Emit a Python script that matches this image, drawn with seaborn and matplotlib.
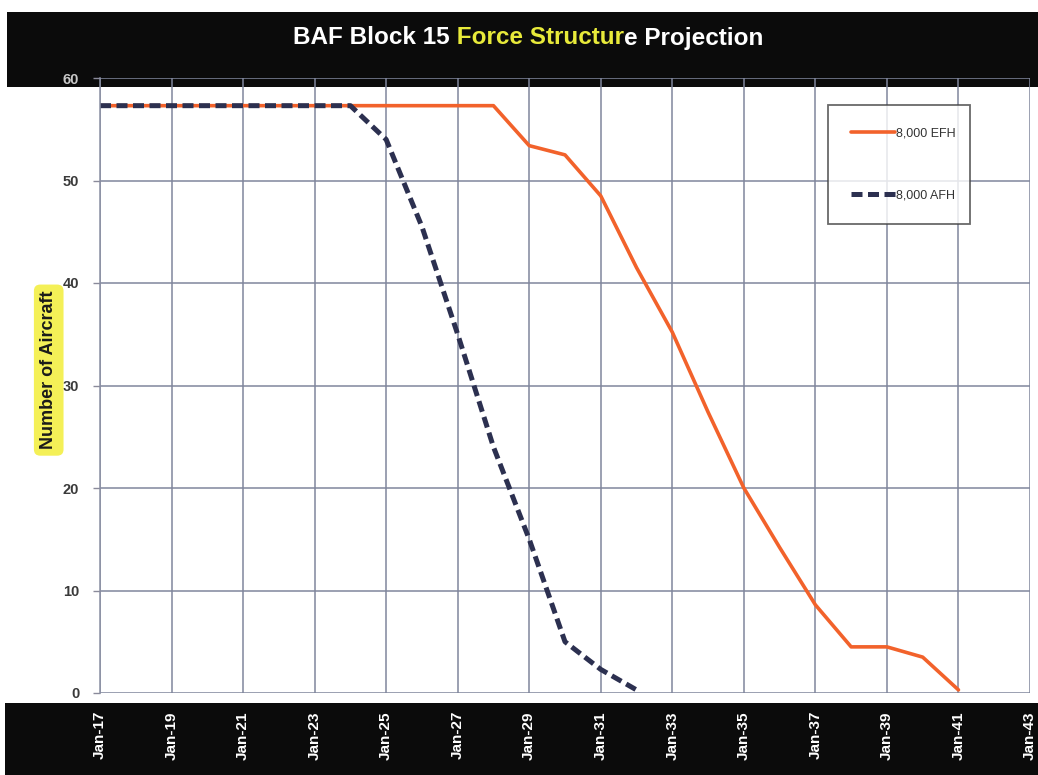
import numpy as np
import pandas as pd
import seaborn as sns
import matplotlib.pyplot as plt
from matplotlib.patches import Rectangle

# data (annual points)
efh_years = list(range(2017, 2042))
efh_values = [57.3, 57.3, 57.3, 57.3, 57.3, 57.3, 57.3, 57.3, 57.3, 57.3, 57.3, 57.3,
              53.4, 52.5, 48.5, 41.5, 35.2, 27.4, 20.0, 14.2, 8.6, 4.5, 4.5, 3.5, 0.3]
afh_years = list(range(2017, 2033))
afh_values = [57.3, 57.3, 57.3, 57.3, 57.3, 57.3, 57.3, 57.3,
              54.0, 45.5, 35.0, 24.0, 15.0, 5.0, 2.3, 0.3]
tick_years = list(range(2017, 2044, 2))
tick_labels = ["Jan-%02d" % (y % 100) for y in tick_years]
y_ticks = [0, 10, 20, 30, 40, 50, 60]

sns.set_style("white")
plt.rcParams['font.family'] = ['Liberation Sans', 'DejaVu Sans']

W, H = 1038, 775
fig = plt.figure(figsize=(W / 100, H / 100), dpi=100, facecolor='white')

# black header / footer bands
fig.add_artist(Rectangle((7 / W, 1 - 87 / H), 1, 75 / H, transform=fig.transFigure,
                         facecolor='#0b0b0b', edgecolor='none', zorder=1))
fig.add_artist(Rectangle((5 / W, 0), 1, (H - 703) / H, transform=fig.transFigure,
                         facecolor='#0b0b0b', edgecolor='none', zorder=1))

ax = fig.add_axes([100 / W, (H - 693) / H, 930 / W, 615 / H])
ax.set_zorder(2)
ax.patch.set_alpha(0)

sns.lineplot(x=efh_years, y=efh_values, ax=ax, color='#f2622b', linewidth=2.6,
             label='8,000 EFH')
sns.lineplot(x=afh_years, y=afh_values, ax=ax, color='#2c3050', linewidth=3.6,
             linestyle=(0, (2.2, 1.1)), label='8,000 AFH')

ax.set_xlim(2017, 2043)
ax.set_ylim(0, 60)
ax.set_xticks(tick_years)
ax.set_xticklabels(tick_labels, rotation=90, color='white', fontsize=11,
                   fontweight='bold', va='top')
ax.set_yticks(y_ticks)
ax.set_yticklabels([str(v) for v in y_ticks], fontsize=10.5, fontweight='bold',
                   color='#3a3a3a')
ax.get_yticklabels()[-1].set_color('#c8c8c8')
ax.tick_params(axis='x', length=0, pad=13)
ax.tick_params(axis='y', length=5, width=1, color='#8a8a9a', pad=10, left=True)

ax.grid(True, color='#80869c', linewidth=1.1)
for s in ['top', 'right', 'bottom']:
    ax.spines[s].set_visible(False)
ax.spines['left'].set_color('#8a8fa3')
ax.spines['left'].set_linewidth(1.1)

ax.set_ylabel('Number of Aircraft', fontsize=13, fontweight='bold', color='#1a1a1a',
              bbox=dict(boxstyle='round,pad=0.35', facecolor='#f3ef45',
                        edgecolor='none', alpha=0.9))
ax.yaxis.set_label_coords(-0.046, 0.525)

leg = ax.legend(loc='upper left',
                bbox_to_anchor=((822 - 100) / 930, (693 - 99) / 615, 154 / 930, 0.0),
                mode='expand', frameon=True, fancybox=False, fontsize=9,
                borderpad=1.8, labelspacing=4.0, handlelength=3.5, handletextpad=0.1)
leg.get_frame().set_edgecolor('#444444')
leg.get_frame().set_linewidth(1.3)
for t in leg.get_texts():
    t.set_color('#333333')

# title with coloured middle part
ty = 1 - 38 / H
t1 = fig.text(293 / W, ty, 'BAF Block 15', color='white', fontsize=17.5,
              fontweight='bold', va='center', ha='left', zorder=3)
t2 = fig.text(0, 0, ' Force Structur', color='#e8ea3a', fontsize=17.5, fontweight='bold',
              va='center', ha='left', zorder=3)
t3 = fig.text(0, 0, 'e Projection', color='white', fontsize=17.5, fontweight='bold',
              va='center', ha='left', zorder=3)
fig.canvas.draw()
r = fig.canvas.get_renderer()
bb = t1.get_window_extent(r)
t2.set_position((bb.x1 / W, ty))
bb = t2.get_window_extent(r)
t3.set_position((bb.x1 / W, ty))

fig.savefig('out.png', dpi=100)
